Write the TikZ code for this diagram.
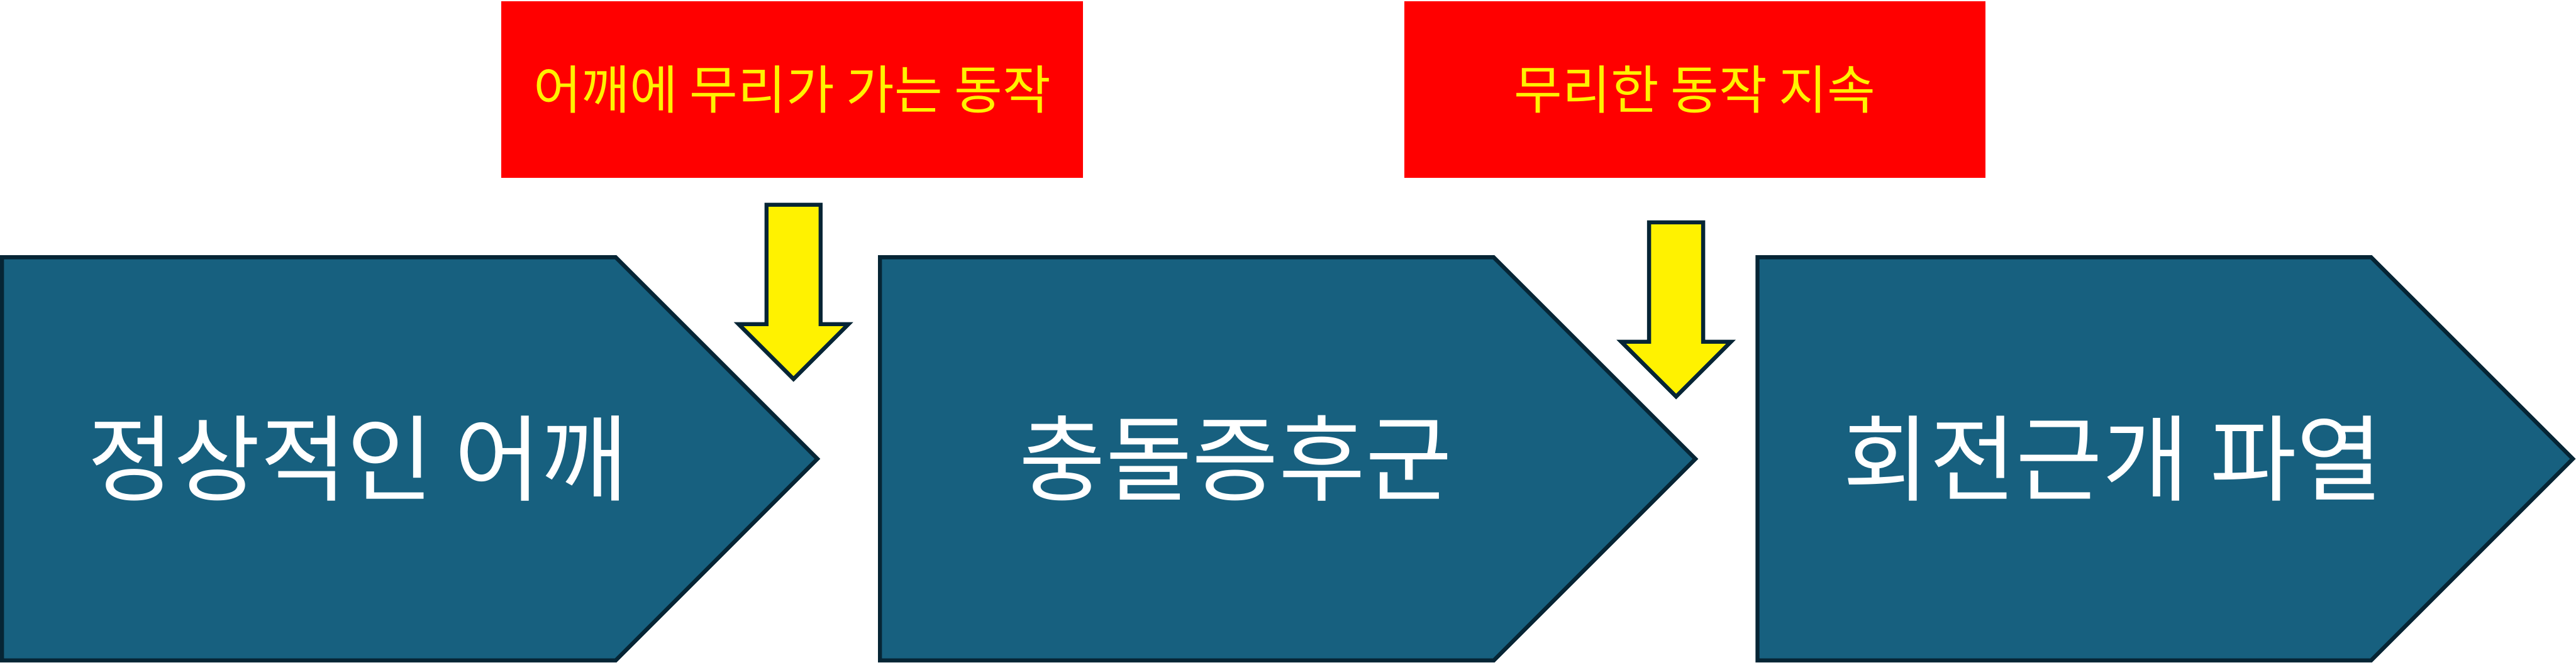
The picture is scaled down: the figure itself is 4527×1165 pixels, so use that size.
\documentclass[tikz,border=0pt]{standalone}
\usepackage{fontspec}
\newfontfamily\kr{Noto Sans CJK KR}
\definecolor{chev}{HTML}{17607F}
\definecolor{edgedark}{HTML}{062535}
\begin{document}
\begin{tikzpicture}[x=0.01cm,y=-0.01cm,
  chevron/.style={fill=chev,draw=edgedark,line width=2pt,line join=miter},
  downarrow/.style={fill=yellow,draw=edgedark,line width=2pt,line join=miter},
  redbox/.style={fill=red,inner sep=0,minimum height=3.11cm,text=yellow,font=\kr\fontsize{26.2}{30}\selectfont},
  bigtxt/.style={text=white,font=\kr\fontsize{47}{54}\selectfont,inner sep=0}]
\useasboundingbox (0,0) rectangle (4527,1165);
\foreach \L/\n/\t in {3.5/s1/정상적인 어깨, 1546.5/s2/충돌증후군, 3088.5/s3/회전근개 파열}{
  \draw[chevron] (\L,452.5) -- ++(1078.5,0) -- ++(354.5,354.5) -- ++(-354.5,354.5) -- ++(-1078.5,0) -- cycle;
  \node[bigtxt] (\n) at (\L+625,806) {\t};
}
\node[redbox,minimum width=10.22cm] (r1) at (1392,157.5) {어깨에 무리가 가는 동작};
\node[redbox,minimum width=10.21cm] (r2) at (2978.5,157.5) {무리한 동작 지속};
\draw[downarrow] (1347,360) -- (1442,360) -- (1442,570) -- (1491,570) -- (1394.5,666.5) -- (1298,570) -- (1347,570) -- cycle;
\draw[downarrow] (2898,391) -- (2993,391) -- (2993,601) -- (3042,601) -- (2945.5,697.5) -- (2849,601) -- (2898,601) -- cycle;
\end{tikzpicture}
\end{document}
